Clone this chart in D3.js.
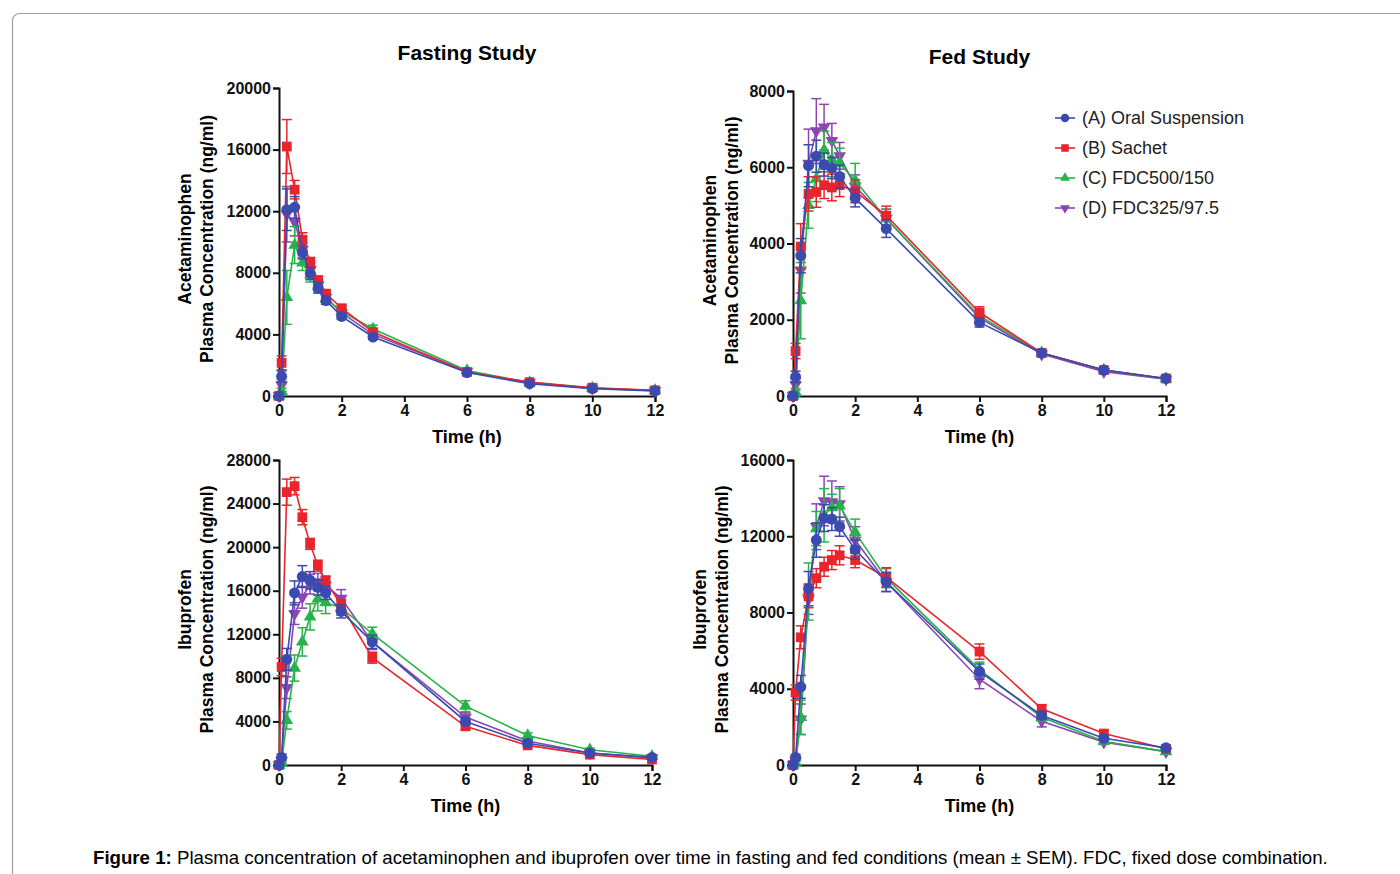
<!DOCTYPE html>
<html>
<head>
<meta charset="utf-8">
<script src="https://cdn.jsdelivr.net/npm/d3@7"></script>
<style>
  body { margin: 0; background: #fff; }
  svg { display: block; font-family: "Liberation Sans", Arial, sans-serif; }
</style>
</head>
<body>
<div id="chart"></div>
<script>
const times = [0, 0.083, 0.25, 0.5, 0.75, 1, 1.25, 1.5, 2, 3, 6, 8, 10, 12];
const xTicks = [0, 2, 4, 6, 8, 10, 12];
const seriesNames = ['(A) Oral Suspension', '(B) Sachet', '(C) FDC500/150', '(D) FDC325/97.5'];
const seriesColors = ['#3a4aae', '#e8252d', '#27b24a', '#8c45b2'];

// acetaminophen, fasting (rows: A, B, C, D)
const apapFastMean = [
  [0, 1280, 12100, 12250, 9350, 7950, 7030, 6200, 5170, 3830, 1520, 800, 480, 330],
  [0, 2150, 16200, 13400, 10150, 8650, 7500, 6650, 5700, 4150, 1560, 900, 540, 370],
  [0, 300, 6400, 9800, 8650, 7850, 7100, 6300, 5500, 4350, 1650, 870, 520, 360],
  [0, 700, 11800, 11300, 9500, 8200, 7200, 6400, 5400, 4000, 1600, 850, 500, 350]
];
const apapFastSem = [
  [0, 350, 1350, 700, 450, 400, 350, 250, 200, 150, 100, 60, 40, 30],
  [0, 450, 1750, 600, 450, 350, 300, 250, 200, 200, 120, 70, 50, 30],
  [0, 200, 1750, 1200, 500, 450, 350, 300, 250, 250, 120, 70, 50, 30],
  [0, 400, 1800, 900, 500, 400, 350, 300, 250, 200, 100, 60, 40, 30]
];

// acetaminophen, fed
const apapFedMean = [
  [0, 500, 3680, 6040, 6290, 6070, 5980, 5760, 5190, 4390, 1930, 1130, 680, 460],
  [0, 1180, 3920, 5300, 5350, 5530, 5470, 5530, 5370, 4730, 2190, 1130, 680, 460],
  [0, 100, 2500, 5000, 5700, 6450, 6200, 6100, 5650, 4650, 2100, 1130, 680, 450],
  [0, 300, 3300, 6100, 6950, 7050, 6700, 6300, 5500, 4650, 2050, 1100, 640, 440]
];
const apapFedSem = [
  [0, 150, 450, 550, 420, 300, 280, 300, 230, 230, 120, 60, 40, 30],
  [0, 200, 600, 450, 400, 350, 350, 300, 300, 250, 150, 70, 50, 30],
  [0, 100, 1000, 600, 600, 500, 450, 400, 450, 250, 150, 70, 50, 30],
  [0, 150, 600, 900, 850, 600, 450, 350, 300, 250, 150, 70, 50, 30]
];

// ibuprofen, fasting
const ibuFastMean = [
  [0, 700, 9700, 15800, 17300, 16950, 16300, 15800, 14100, 11300, 4000, 2000, 1100, 700],
  [0, 9000, 25050, 25600, 22750, 20300, 18300, 16850, 14700, 9850, 3550, 1800, 950, 500],
  [0, 150, 4100, 8900, 11300, 13600, 15250, 14900, 14450, 12050, 5400, 2700, 1400, 800],
  [0, 400, 7100, 13900, 15400, 16600, 16800, 16500, 15300, 11300, 4400, 2200, 1100, 650]
];
const ibuFastSem = [
  [0, 300, 1000, 1100, 1000, 800, 700, 600, 600, 600, 300, 200, 100, 60],
  [0, 800, 1200, 800, 700, 500, 500, 500, 500, 500, 300, 150, 100, 50],
  [0, 100, 800, 1200, 1300, 1200, 1100, 1000, 700, 600, 500, 250, 150, 80],
  [0, 300, 1000, 1000, 1000, 900, 800, 800, 800, 700, 400, 200, 100, 60]
];

// ibuprofen, fed
const ibuFedMean = [
  [0, 400, 4100, 9250, 11800, 12950, 12900, 12500, 11300, 9600, 4900, 2600, 1400, 900],
  [0, 3800, 6700, 8850, 9800, 10400, 10750, 11000, 10750, 9850, 5950, 2950, 1650, 850],
  [0, 100, 2500, 9100, 12400, 13100, 13500, 13600, 12200, 9800, 5000, 2500, 1250, 700],
  [0, 200, 2400, 8700, 12500, 13850, 13800, 13700, 11800, 9600, 4500, 2300, 1200, 700]
];
const ibuFedSem = [
  [0, 150, 600, 900, 900, 700, 600, 500, 500, 500, 400, 200, 100, 70],
  [0, 400, 600, 600, 500, 500, 500, 500, 400, 500, 400, 200, 120, 70],
  [0, 100, 900, 1500, 900, 1400, 700, 900, 700, 500, 400, 200, 100, 60],
  [0, 150, 800, 800, 1200, 1300, 1100, 900, 700, 500, 500, 300, 120, 60]
];

const W = 1400, H = 874;
const svg = d3.select('#chart').append('svg').attr('width', W).attr('height', H);

// figure frame
svg.append('rect')
  .attr('x', 12.5).attr('y', 13.5)
  .attr('width', W).attr('height', H)
  .attr('rx', 7)
  .attr('fill', 'none').attr('stroke', '#a0a0a0').attr('stroke-width', 1.2);

const symbols = [d3.symbolCircle, d3.symbolSquare, d3.symbolTriangle, d3.symbolTriangle];
const symSizes = [95, 95, 70, 70];
const symRotate = [0, 0, 0, 180];

const panels = [
  { mean: apapFastMean, sem: apapFastSem, yMax: 20000, yStep: 4000, drug: 'Acetaminophen',
    x0: 279, x1: 655, yTop: 88, yBot: 396, title: 'Fasting Study', titleY: 60, labX: 185 },
  { mean: apapFedMean, sem: apapFedSem, yMax: 8000, yStep: 2000, drug: 'Acetaminophen',
    x0: 793, x1: 1166, yTop: 91, yBot: 396, title: 'Fed Study', titleY: 64, labX: 710 },
  { mean: ibuFastMean, sem: ibuFastSem, yMax: 28000, yStep: 4000, drug: 'Ibuprofen',
    x0: 279, x1: 652, yTop: 460, yBot: 765, labX: 185 },
  { mean: ibuFedMean, sem: ibuFedSem, yMax: 16000, yStep: 4000, drug: 'Ibuprofen',
    x0: 793, x1: 1166, yTop: 460, yBot: 765, labX: 700 }
];

panels.forEach(p => {
  const x = d3.scaleLinear().domain([0, 12]).range([p.x0, p.x1]);
  const y = d3.scaleLinear().domain([0, p.yMax]).range([p.yBot, p.yTop]);
  const g = svg.append('g');

  const xAxis = g.append('g')
    .attr('transform', `translate(0,${p.yBot})`)
    .call(d3.axisBottom(x).tickValues(xTicks).tickSize(6).tickPadding(3).tickFormat(d3.format('d')));
  const yAxis = g.append('g')
    .attr('transform', `translate(${p.x0},0)`)
    .call(d3.axisLeft(y).tickValues(d3.range(0, p.yMax + 1, p.yStep)).tickSize(6).tickPadding(2).tickFormat(d3.format('d')));
  [xAxis, yAxis].forEach(a => {
    a.select('.domain').attr('stroke', '#111').attr('stroke-width', 2);
    a.selectAll('.tick line').attr('stroke', '#111').attr('stroke-width', 2);
    a.selectAll('.tick text')
      .attr('fill', '#111')
      .style('font-size', '16px')
      .style('font-weight', 'bold')
      .style('font-family', '"Liberation Sans", Arial, sans-serif');
  });

  const cx = (p.x0 + p.x1) / 2;
  g.append('text')
    .attr('x', cx).attr('y', p.yBot + 47)
    .attr('text-anchor', 'middle')
    .style('font-size', '18px').style('font-weight', 'bold')
    .text('Time (h)');

  if (p.title) {
    g.append('text')
      .attr('x', cx).attr('y', p.titleY)
      .attr('text-anchor', 'middle')
      .style('font-size', '21px').style('font-weight', 'bold')
      .text(p.title);
  }

  const cy = (p.yTop + p.yBot) / 2 - 3;
  [p.drug, 'Plasma Concentration (ng/ml)'].forEach((t, i) => {
    g.append('text')
      .attr('transform', `translate(${p.labX + i * 22 + 6},${cy}) rotate(-90)`)
      .attr('text-anchor', 'middle')
      .style('font-size', '17.5px').style('font-weight', 'bold')
      .text(t);
  });

  const line = d3.line().x(d => x(d.t)).y(d => y(d.v));

  // draw D, C, B, A so that A sits on top
  [3, 2, 1, 0].forEach(s => {
    const pts = times.map((t, i) => ({ t, v: p.mean[s][i], e: p.sem[s][i] }));
    const col = seriesColors[s];
    const sg = g.append('g');

    const eb = sg.selectAll('g.eb').data(pts.filter(d => d.e > 0)).join('g');
    eb.append('line')
      .attr('x1', d => x(d.t)).attr('x2', d => x(d.t))
      .attr('y1', d => y(d.v - d.e)).attr('y2', d => y(d.v + d.e))
      .attr('stroke', col).attr('stroke-width', 1.5);
    [-1, 1].forEach(k => {
      eb.append('line')
        .attr('x1', d => x(d.t) - 5).attr('x2', d => x(d.t) + 5)
        .attr('y1', d => y(d.v + k * d.e)).attr('y2', d => y(d.v + k * d.e))
        .attr('stroke', col).attr('stroke-width', 1.5);
    });

    sg.append('path')
      .datum(pts)
      .attr('d', line)
      .attr('fill', 'none')
      .attr('stroke', col)
      .attr('stroke-width', 1.6);

    sg.selectAll('path.mk').data(pts).join('path')
      .attr('class', 'mk')
      .attr('d', d3.symbol().type(symbols[s]).size(symSizes[s]))
      .attr('transform', d => `translate(${x(d.t)},${y(d.v)}) rotate(${symRotate[s]})`)
      .attr('fill', col);
  });
});

// legend
const legend = svg.append('g');
seriesNames.forEach((name, i) => {
  const ly = 118 + i * 30;
  legend.append('line')
    .attr('x1', 1055).attr('x2', 1075).attr('y1', ly).attr('y2', ly)
    .attr('stroke', seriesColors[i]).attr('stroke-width', 1.6);
  legend.append('path')
    .attr('d', d3.symbol().type(symbols[i]).size(symSizes[i] * 0.6))
    .attr('transform', `translate(1065,${ly}) rotate(${symRotate[i]})`)
    .attr('fill', seriesColors[i]);
  legend.append('text')
    .attr('x', 1082).attr('y', ly + 6)
    .style('font-size', '18px')
    .attr('fill', '#222')
    .text(name);
});

// caption
const cap = svg.append('text')
  .attr('x', 93).attr('y', 864)
  .style('font-size', '18px')
  .style('font-family', '"Liberation Sans Narrow", "Liberation Sans", Arial, sans-serif');
cap.append('tspan').style('font-weight', 'bold').text('Figure 1:');
cap.append('tspan').text(' Plasma concentration of acetaminophen and ibuprofen over time in fasting and fed conditions (mean \u00b1 SEM). FDC, fixed dose combination.');
const capLen = cap.node().getComputedTextLength();
const capScale = 1235 / capLen;
cap.attr('transform', `translate(${93 * (1 - capScale)},0) scale(${capScale},1)`);
</script>
</body>
</html>
